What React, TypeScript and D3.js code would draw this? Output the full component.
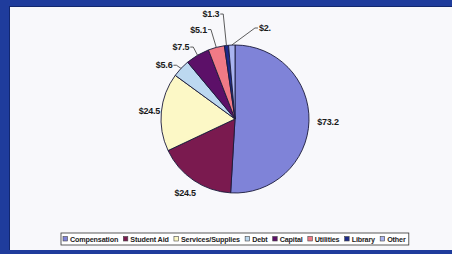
import React, { useEffect, useRef } from 'react';
import * as d3 from 'd3';

const categories = ['Compensation', 'Student Aid', 'Services/Supplies', 'Debt', 'Capital', 'Utilities', 'Library', 'Other'];
const values = [73.2, 24.5, 24.5, 5.6, 7.5, 5.1, 1.3, 2.0];
const valueLabels = ['$73.2', '$24.5', '$24.5', '$5.6', '$7.5', '$5.1', '$1.3', '$2.'];
const colors = ['#7f83d8', '#7a1a4f', '#fcf8c6', '#bcd8f0', '#5c1068', '#f07a86', '#1c2a8a', '#aab4f0'];

// label placement (Excel moved the small ones apart)
const labelShift = [0, 0, 0, -6, -6.5, -7.5, -6.3, 20.7];
const labelRadius = [93, 89, 86, 89, 90, 96.6, 107.7, 95.8];
const hasLeader = [false, false, false, true, true, true, true, true];

const W = 452;
const H = 254;

export default function App() {
  const ref = useRef<SVGSVGElement>(null);

  useEffect(() => {
    const svg = d3.select(ref.current);
    svg.selectAll('*').remove();

    // frame
    svg.append('rect').attr('width', W).attr('height', H).attr('fill', '#1f3c9c');
    svg.append('rect').attr('x', 9).attr('y', 6).attr('width', W - 9).attr('height', 244).attr('fill', '#12276e');
    svg.append('rect').attr('x', 10).attr('y', 7).attr('width', W - 10).attr('height', 243).attr('fill', '#f8f8fb');

    const cx = 235, cy = 119, r = 74;
    const g = svg.append('g').attr('transform', `translate(${cx},${cy})`);

    const pie = d3.pie<number>().sort(null).value(d => d);
    const arcs = pie(values);
    const arc = d3.arc<d3.PieArcDatum<number>>().innerRadius(0).outerRadius(r);

    g.selectAll('path.slice')
      .data(arcs)
      .enter()
      .append('path')
      .attr('class', 'slice')
      .attr('d', arc)
      .attr('fill', (d, i) => colors[i])
      .attr('stroke', '#1a1a3a')
      .attr('stroke-width', 0.9)
      .attr('stroke-linejoin', 'round');

    const toRad = Math.PI / 180;
    arcs.forEach((d, i) => {
      const mid = (d.startAngle + d.endAngle) / 2;
      const a = mid + labelShift[i] * toRad;
      const lx = Math.sin(a) * labelRadius[i];
      const ly = -Math.cos(a) * labelRadius[i];
      const t = g.append('text')
        .attr('x', lx)
        .attr('y', ly)
        .attr('text-anchor', 'middle')
        .attr('dominant-baseline', 'central')
        .attr('font-family', 'Liberation Sans, Arial, sans-serif')
        .attr('font-weight', 'bold')
        .attr('font-size', 9)
        .attr('letter-spacing', -0.2)
        .attr('fill', '#1a1a1a')
        .text(valueLabels[i]);

      if (hasLeader[i]) {
        const w = (t.node() as SVGTextElement).getComputedTextLength();
        const px = Math.sin(mid) * r;
        const py = -Math.cos(mid) * r;
        const dir = px > lx ? 1 : -1;
        const ex = lx + dir * (w / 2 + 1);
        const path = d3.path();
        path.moveTo(ex, ly);
        path.lineTo(ex + dir * 3, ly);
        path.lineTo(px, py);
        g.append('path')
          .attr('d', path.toString())
          .attr('fill', 'none')
          .attr('stroke', '#333')
          .attr('stroke-width', 0.8);
      }
    });

    // legend
    const lg = svg.append('g');
    const box = lg.append('rect')
      .attr('x', 61).attr('y', 233).attr('height', 12)
      .attr('fill', '#fff').attr('stroke', '#333').attr('stroke-width', 0.8);
    let x = 63;
    categories.forEach((c, i) => {
      lg.append('rect')
        .attr('x', x).attr('y', 236.5).attr('width', 4.5).attr('height', 4.5)
        .attr('fill', colors[i]).attr('stroke', '#444').attr('stroke-width', 0.6);
      const t = lg.append('text')
        .attr('x', x + 7).attr('y', 239)
        .attr('dominant-baseline', 'central')
        .attr('font-family', 'Liberation Sans, Arial, sans-serif')
        .attr('font-weight', 'bold')
        .attr('font-size', 7.2)
        .attr('letter-spacing', -0.15)
        .attr('fill', '#222')
        .text(c);
      const w = (t.node() as SVGTextElement).getComputedTextLength();
      x += 7 + w + 5.2;
    });
    box.attr('width', x - 61 - 2);
  }, []);

  return (
    <svg ref={ref} width={W} height={H} style={{ position: 'absolute', left: 0, top: 0, display: 'block' }} />
  );
}
